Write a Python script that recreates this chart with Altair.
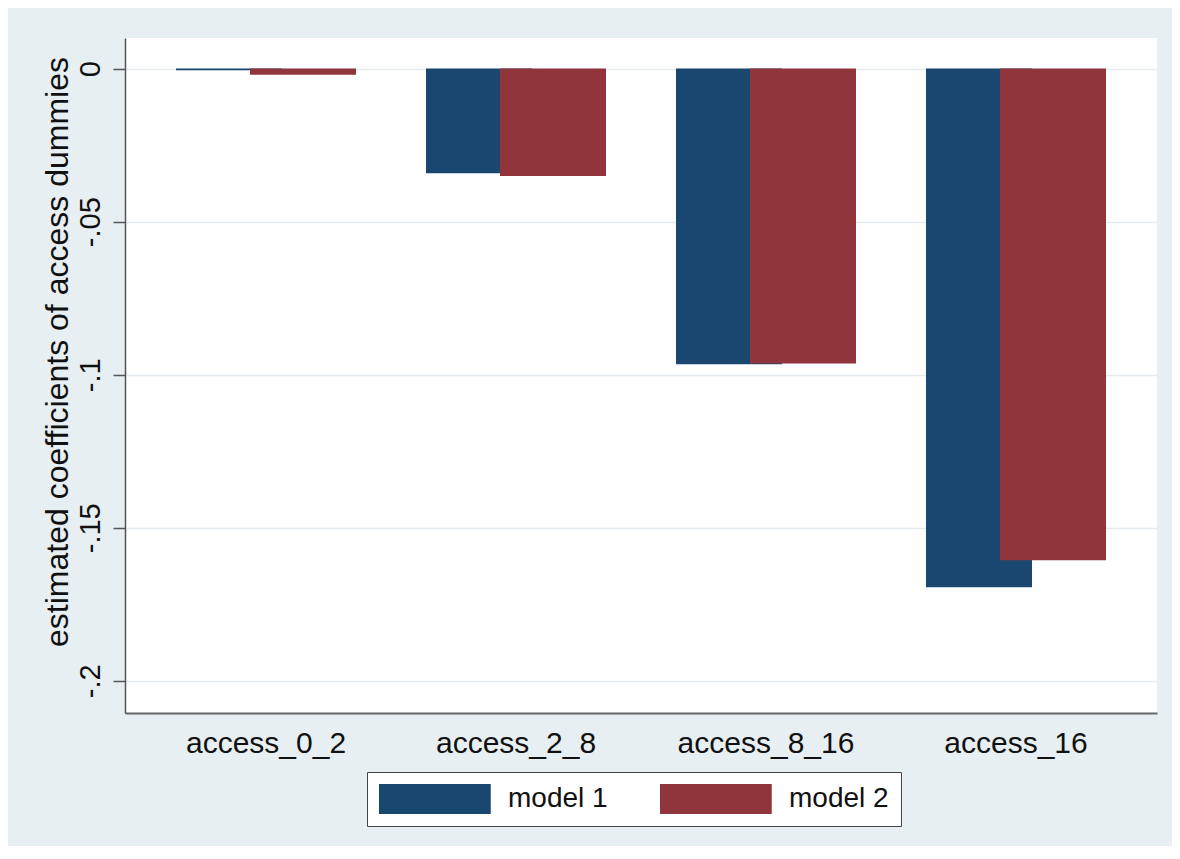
import altair as alt
import pandas as pd

categories = ["access_0_2", "access_2_8", "access_8_16", "access_16"]
models = ["model 1", "model 2"]
model1_coef = [-0.0005, -0.0342, -0.0966, -0.1694]
model2_coef = [-0.0020, -0.0351, -0.0963, -0.1606]
y_ticks = [0, -0.05, -0.1, -0.15, -0.2]
y_tick_labels = ["0", "-.05", "-.1", "-.15", "-.2"]

NAVY = "#1a476f"
MAROON = "#90353b"
BG = "#e8eff2"
FONT = "Liberation Sans"

df = pd.DataFrame({
    "access": categories * 2,
    "model": [models[0]] * len(categories) + [models[1]] * len(categories),
    "coef": model1_coef + model2_coef,
})

# stata style tick labels ("-.05" instead of "-0.05")
label_expr = "''"
for v, lab in reversed(list(zip(y_ticks, y_tick_labels))):
    label_expr = f"abs(datum.value - ({v})) < 1e-9 ? '{lab}' : {label_expr}"

x_enc = alt.X(
    "access:N",
    sort=categories,
    title=None,
    scale=alt.Scale(paddingInner=0, paddingOuter=0.064),
    axis=alt.Axis(
        labelAngle=0, ticks=False, tickSize=0, labelPadding=39,
        labelBaseline="alphabetic", labelFont=FONT, labelFontSize=30,
        labelColor="#111", domainColor="#666", domainWidth=2, grid=False,
    ),
)

y_enc = alt.Y(
    "coef:Q",
    title="estimated coefficients of access dummies",
    scale=alt.Scale(domain=[-0.2105, 0.01], nice=False, zero=False),
    axis=alt.Axis(
        values=y_ticks, labelExpr=label_expr, labelAngle=270, labelAlign="center",
        labelBaseline="alphabetic", labelPadding=14, labelFont=FONT, labelFontSize=29,
        labelColor="#111", labelFlush=False, labelOverlap=False,
        tickSize=12, tickColor="#555", tickWidth=1.5,
        domainColor="#555", domainWidth=1.5,
        grid=True, gridColor="#e4ecef", gridWidth=1.5,
        titleFont=FONT, titleFontSize=32, titleFontWeight="normal", titleColor="#111",
        titleAngle=270, titleX=-58, titleY=313.5, titleAlign="center",
        titleBaseline="alphabetic",
    ),
)

# wide legend swatch: 30px tall box for layout, path drawn out to the right
color_enc = alt.Color(
    "model:N",
    scale=alt.Scale(domain=models, range=[NAVY, MAROON]),
    legend=alt.Legend(
        title=None, orient="none", legendX=242, legendY=734, direction="horizontal",
        fillColor="white", strokeColor="#444", padding=12, cornerRadius=0,
        symbolType="M-1,-1L6.45,-1L6.45,1L-1,1Z", symbolSize=900,
        symbolStrokeWidth=0, symbolOpacity=1,
        labelFont=FONT, labelFontSize=28, labelColor="#111", labelOffset=99,
        columnPadding=52,
    ),
)

base = alt.Chart(df).encode(x=x_enc, y=y_enc, color=color_enc)

bars1 = base.transform_filter(alt.datum.model == models[0]).mark_bar(width=106, xOffset=-37)
bars2 = base.transform_filter(alt.datum.model == models[1]).mark_bar(width=106, xOffset=37)

chart = (
    alt.layer(bars1, bars2)
    .properties(
        width=1032,
        height=675,
        autosize=alt.AutoSizeParams(type="none"),
        padding={"left": 117, "top": 30, "right": 15, "bottom": 133},
        background=BG,
    )
    .configure_view(fill="white", strokeWidth=0)
)

chart.save("out.html", embed_options={"renderer": "svg", "actions": False})
